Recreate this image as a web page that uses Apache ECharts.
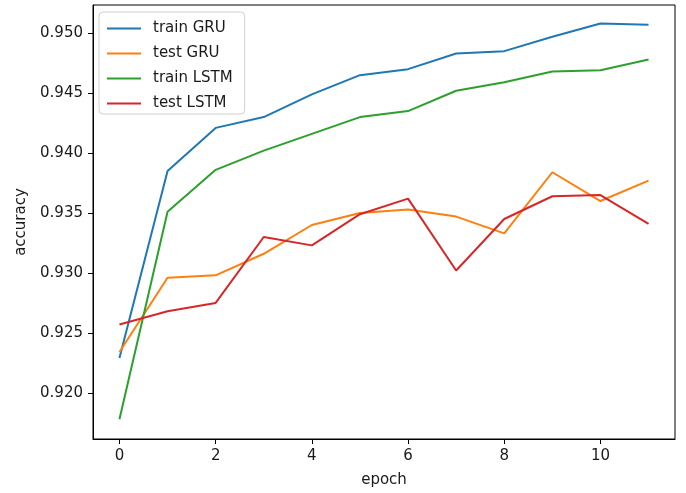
<!DOCTYPE html>
<html>
<head>
<meta charset="utf-8">
<script src="https://cdn.jsdelivr.net/npm/echarts@6/dist/echarts.min.js"></script>
<style>html,body{margin:0;padding:0;background:#fff;}#c{width:686px;height:493px;}</style>
</head>
<body>
<div id="c"></div>
<script>
const epochs = [0,1,2,3,4,5,6,7,8,9,10,11];
const trainGRU  = [0.9229,0.9385,0.9421,0.9430,0.9449,0.9465,0.9470,0.9483,0.9485,0.9497,0.9508,0.9507];
const testGRU   = [0.9234,0.9296,0.9298,0.9316,0.9340,0.9350,0.9353,0.9347,0.9333,0.9384,0.9360,0.9377];
const trainLSTM = [0.9178,0.9351,0.9386,0.9402,0.9416,0.9430,0.9435,0.9452,0.9459,0.9468,0.9469,0.9478];
const testLSTM  = [0.9257,0.9268,0.9275,0.9330,0.9323,0.9349,0.9362,0.9302,0.9345,0.9364,0.9365,0.9341];
const xTicks = [0,2,4,6,8,10];
const yTicks = [0.920,0.925,0.930,0.935,0.940,0.945,0.950];
const seriesNames = ['train GRU','test GRU','train LSTM','test LSTM'];
const colors = ['#1f77b4','#ff7f0e','#2ca02c','#d62728'];
const allSeries = [trainGRU,testGRU,trainLSTM,testLSTM];

const font = 'DejaVu Sans';
const fs = 15;
const chart = echarts.init(document.getElementById('c'), null, {renderer:'canvas'});
chart.setOption({
  animation:false,
  backgroundColor:'#fff',
  color:colors,
  grid:{left:93,right:11,top:5,bottom:54,outerBoundsMode:'none',containLabel:false,
        show:true,borderColor:'#000',borderWidth:1,backgroundColor:'transparent'},
  legend:{
    orient:'vertical',left:99,top:12,
    data:seriesNames,
    icon:'rect',itemWidth:34,itemHeight:2,itemGap:10,
    padding:[9,12,3,8],
    borderColor:'#d0d0d0',borderWidth:1,borderRadius:4,
    backgroundColor:'rgba(255,255,255,0.8)',
    textStyle:{fontFamily:font,fontSize:fs,lineHeight:15,color:'#1a1a1a',padding:[0,0,0,7]}
  },
  xAxis:{
    type:'value',min:-0.55,max:11.55,
    name:'epoch',nameLocation:'middle',nameGap:34,
    nameTextStyle:{fontFamily:font,fontSize:fs,color:'#1a1a1a'},
    axisLine:{show:true,onZero:false,lineStyle:{color:'#000',width:1}},
    axisTick:{show:true,length:5,lineStyle:{color:'#000'},customValues:xTicks},
    axisLabel:{fontFamily:font,fontSize:fs,color:'#1a1a1a',margin:10,customValues:xTicks,formatter:v=>String(v)},
    splitLine:{show:false}
  },
  yAxis:{
    type:'value',min:0.91615,max:0.95235,
    name:'accuracy',nameLocation:'middle',nameGap:64,nameRotate:90,
    nameTextStyle:{fontFamily:font,fontSize:fs,color:'#1a1a1a'},
    axisLine:{show:true,onZero:false,lineStyle:{color:'#000',width:1}},
    axisTick:{show:true,length:5,lineStyle:{color:'#000'},customValues:yTicks},
    axisLabel:{fontFamily:font,fontSize:fs,color:'#1a1a1a',margin:10,customValues:yTicks,formatter:v=>v.toFixed(3)},
    splitLine:{show:false}
  },
  series:allSeries.map((arr,i)=>({
    name:seriesNames[i],type:'line',
    data:epochs.map((e,j)=>[e,arr[j]]),
    showSymbol:false,symbol:'none',
    lineStyle:{width:2,color:colors[i]},
    itemStyle:{color:colors[i]}
  }))
});
</script>
</body>
</html>
